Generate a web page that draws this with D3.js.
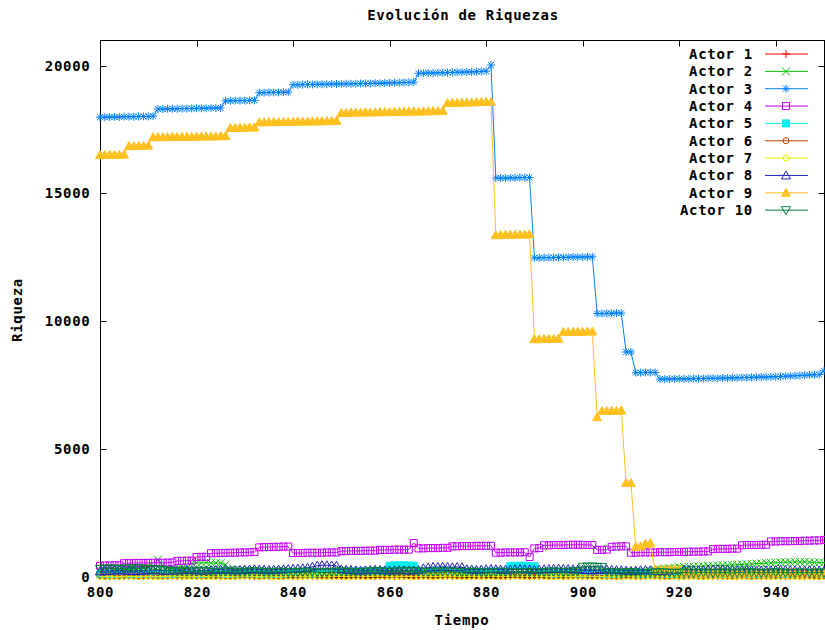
<!DOCTYPE html>
<html><head><meta charset="utf-8">
<script src="https://cdn.jsdelivr.net/npm/d3@7"></script>
<style>
body{margin:0;background:#fff}
svg text{font-family:"DejaVu Sans Mono",monospace;font-weight:bold;font-size:14px;letter-spacing:0.7px;fill:#000}
</style>
</head><body>
<svg id="chart" width="825" height="630"></svg>
<script>
const title = "Evolución de Riquezas";
const xLabel = "Tiempo";
const yLabel = "Riqueza";
const tStart = 800;
const xTicks = [800, 820, 840, 860, 880, 900, 920, 940];
const yTicks = [0, 5000, 10000, 15000, 20000];
const actorNames = ["Actor 1","Actor 2","Actor 3","Actor 4","Actor 5","Actor 6","Actor 7","Actor 8","Actor 9","Actor 10"];
const actorColors = ["#ff0000","#00c000","#0080ff","#c000ff","#00eeee","#c04000","#eeee00","#2020c0","#ffc020","#008040"];
const actorMarkers = ["plus","cross","star","box","fbox","circle","circle","tri","ftri","itri"];

const actor1 = [40,50,30,60,40,30,50,60,40,30,50,40,60,30,40,50,30,40,60,50,40,30,50,60,40,30,50,40,30,60,50,40,30,50,60,40,30,50,40,60,30,40,50,60,40,30,50,40,30,60,40,50,30,40,60,50,40,30,50,40,60,30,40,50,60,40,30,50,40,30,60,50,40,30,50,60,40,30,50,40,30,60,40,50,30,40,60,50,40,30,50,40,60,30,40,50,30,40,60,50,40,30,50,60,40,30,50,40,30,60,50,40,30,50,60,40,30,50,40,60,30,40,50,60,40,30,50,40,30,60,40,50,30,40,60,50,40,30,50,40,60,30,40,50,60,40,30,50,40,30,60];
const actor2 = [250,260,240,270,280,300,290,310,330,350,380,420,
680,450,330,320,310,330,340,
540,550,550,560,550,550,540,480,
300,280,270,260,250,250,240,240,230,230,240,250,240,230,
220,220,210,210,200,200,200,210,220,230,230,220,210,200,200,190,190,200,210,220,220,230,240,230,220,210,200,200,210,220,
230,240,250,250,240,230,220,220,210,210,200,200,200,190,190,190,200,200,210,210,200,200,190,180,180,190,200,200,190,190,
180,180,170,170,160,160,170,180,180,190,200,210,230,250,280,
300,320,340,360,380,390,400,400,410,420,430,440,450,460,460,470,480,490,500,510,520,530,540,550,560,570,580,580,590,590,590,580,570,570,560];
const actor3 = [17980,17980,17990,17990,17990,18000,18000,18000,18010,18010,18010,18020,
18300,18300,18310,18310,18310,18320,18320,18320,18330,18330,18330,18340,18340,18340,
18620,18620,18630,18630,18630,18640,18640,
18940,18940,18950,18950,18950,18960,18960,
19250,19250,19260,19260,19260,19270,19270,19270,19280,19280,19280,19290,19290,19290,19300,19300,19300,19310,19310,19320,19320,19330,19330,19340,19340,19350,
19700,19700,19710,19710,19720,19720,19730,19730,19740,19740,19750,19750,19760,19770,19780,
20020,
15600,15600,15600,15610,15610,15620,15620,15620,
12480,12480,12490,12490,12490,12500,12500,12500,12510,12510,12510,12520,12520,
10300,10300,10310,10310,10320,10320,
8800,8800,
7990,7990,8000,8000,8000,
7740,7740,7740,7750,7750,7750,7750,7760,7760,7760,7770,7770,7770,7780,7780,7790,7790,7800,7800,7810,7810,7820,7820,7830,7830,7840,7850,7860,7870,7880,7890,7900,7910,7920,8060];
const actor4 = [440,450,450,460,460,
540,540,550,550,550,550,560,560,560,560,570,
630,630,640,640,
780,790,790,
930,930,940,940,950,950,960,960,970,980,
1160,1170,1170,1180,1180,1190,1190,
940,940,940,950,950,950,950,960,960,960,
1010,1010,1020,1020,1020,1030,1030,1030,
1060,1060,1060,1070,1070,1070,1070,
1330,
1120,1120,1130,1130,1130,1140,1140,
1200,1200,1210,1210,1210,1220,1220,1220,1220,
950,950,960,960,960,960,970,780,
1120,1130,
1240,1240,1250,1250,1250,1260,1260,1260,1260,1250,1250,
1060,1060,1070,
1180,1190,1200,1200,
950,950,960,960,960,960,970,970,970,980,980,980,990,990,990,1000,1000,
1090,1100,1100,1100,1110,1110,
1240,1250,1250,1250,1260,1260,
1390,1390,1400,1400,1400,1410,1410,1420,1420,1430,1430,1450];
const actor5 = [100,110,120,110,100,90,100,110,120,130,
120,110,100,100,110,120,130,120,110,100,
100,110,120,130,140,130,120,110,100,100,
110,120,130,120,110,100,110,120,130,140,
150,140,130,120,130,140,150,160,170,180,
190,200,200,210,210,200,200,210,220,230,
440,450,460,460,450,440,200,190,180,170,
160,170,180,190,200,190,180,170,180,190,
200,210,200,190,200,420,430,440,440,430,
420,160,150,140,130,140,150,140,130,120,
130,140,150,140,130,120,110,120,130,140,
130,120,110,100,110,120,130,120,110,100,
100,110,120,110,100,110,120,130,120,110,
100,110,120,130,120,110,100,110,120,130,
140,130,120,110,120,130,140,150,140,130,
120];
const actor6 = [60,50,40,50,60,70,60,50,40,50,
60,70,60,50,40,50,60,70,80,70,
60,50,60,70,60,50,40,50,60,70,
80,70,60,50,60,70,60,50,40,50,
60,70,80,70,60,50,60,70,60,50,
40,50,60,70,60,50,40,50,60,70,
80,90,80,70,60,50,60,70,60,50,
60,70,80,70,60,50,40,50,60,70,
60,50,40,50,60,70,80,70,60,50,
60,70,60,50,40,50,60,70,80,70,
60,50,60,70,60,50,40,50,60,70,
80,70,60,50,60,70,60,50,40,50,
60,70,80,70,60,50,60,70,60,50,
40,50,60,70,60,50,40,50,60,70,
60,50,40,50,60,70,80,70,60,50,
60];
const actor7 = [20,10,30,20,10,20,30,20,10,20,
30,20,10,20,30,40,30,20,10,20,
20,30,20,10,20,30,20,10,20,30,
40,30,20,10,20,30,20,10,20,30,
20,10,20,30,40,30,20,10,20,30,
20,10,20,30,20,10,20,30,40,30,
20,10,20,30,20,10,20,30,20,10,
20,30,40,30,20,10,20,30,20,10,
20,30,20,10,20,30,40,30,20,10,
20,30,20,10,20,30,20,10,20,30,
40,30,20,10,20,30,20,10,20,30,
20,10,20,30,40,30,20,10,20,30,
20,10,20,30,20,10,20,30,40,30,
20,10,20,30,20,10,20,30,20,10,
20,30,40,30,20,10,20,30,20,10,
20];
const actor8 = [220,230,240,250,260,250,240,230,240,250,
260,270,260,250,240,250,260,270,280,270,
260,250,260,270,280,290,280,270,260,270,
280,290,300,290,280,270,280,290,300,310,
320,330,340,360,400,440,460,460,450,440,
300,280,270,260,250,260,270,280,270,260,
250,260,270,260,250,260,270,340,370,390,
390,400,390,380,390,380,300,290,280,290,
300,310,300,290,280,290,300,310,300,290,
280,290,300,310,320,330,320,310,300,290,
280,270,260,270,280,290,280,270,260,250,
240,250,260,270,260,250,240,250,260,270,
280,290,280,270,260,270,280,290,300,290,
280,270,260,270,280,270,260,250,260,270,
280,290,280,270,260,250,260,270,260,250,
240];
const actor9 = [16500,16500,16510,16510,16510,16520,
16850,16850,16860,16860,16870,
17200,17200,17200,17210,17210,17210,17210,17220,17220,17220,17220,17230,17230,17230,17240,17240,
17560,17560,17570,17570,17580,17580,
17780,17780,17790,17790,17790,17800,17800,17800,17810,17810,17810,17820,17820,17820,17830,17830,17840,
18150,18150,18160,18160,18160,18170,18170,18170,18180,18180,18180,18190,18190,18190,18200,18200,18200,18210,18210,18220,18220,18230,
18540,18540,18550,18550,18560,18560,18570,18570,18580,18580,
13370,13370,13380,13380,13390,13390,13390,13400,
9300,9300,9310,9310,9310,9320,
9580,9580,9590,9590,9590,9600,9600,
6250,
6490,6490,6500,6500,6510,
3680,3680,
1180,1200,
1300,1320,
290,290,300,300,300,310,
160,150,150,140,140,150,150,160,150,140,140,150,150,150,160,160,150,140,150,150,160,160,150,150,140,150,150,160,150,150];
const actor10 = [320,330,340,330,320,330,340,350,340,330,
320,310,300,280,260,240,230,220,210,220,
220,230,220,210,200,210,220,210,200,190,
200,210,220,210,200,190,200,210,200,190,
180,190,200,210,200,190,180,190,200,210,
220,210,200,190,200,210,220,230,220,210,
200,210,220,230,240,230,220,210,200,210,
220,230,220,210,200,190,200,210,200,190,
180,190,200,210,200,190,180,190,200,190,
180,190,200,210,220,210,200,210,220,230,
400,410,410,400,390,200,190,180,170,180,
190,180,170,160,170,180,190,180,170,160,
170,180,170,160,170,180,170,160,170,180,
170,160,170,180,190,180,170,160,170,180,
190,180,170,160,170,180,170,160,170,180,
170];
const seriesValues = [actor1,actor2,actor3,actor4,actor5,actor6,actor7,actor8,actor9,actor10];

const svg = d3.select("#chart");
const L = 100, R = 824, T = 40, B = 577;
const x = d3.scaleLinear().domain([800, 950]).range([L, R]);
const y = d3.scaleLinear().domain([0, 21000]).range([B, T]);

// marker shapes
function markerPath(type) {
  const s = 4;
  switch (type) {
    case "plus": return `M${-s},0H${s}M0,${-s}V${s}`;
    case "cross": return `M${-s},${-s}L${s},${s}M${-s},${s}L${s},${-s}`;
    case "star": return `M${-s},0H${s}M0,${-s}V${s}M${-s+1},${-s+1}L${s-1},${s-1}M${-s+1},${s-1}L${s-1},${-s+1}`;
    case "box": case "fbox": return `M${-3.5},${-3.5}h7v7h-7Z`;
    case "circle": return d3.arc()({innerRadius:0,outerRadius:3,startAngle:0,endAngle:2*Math.PI});
    case "tri": case "ftri": return `M0,${-4.5}L4.5,3.5L-4.5,3.5Z`;
    case "itri": return `M0,4.5L4.5,-3.5L-4.5,-3.5Z`;
  }
}
function isFilled(type){ return type === "fbox" || type === "ftri"; }

// border
svg.append("rect").attr("x", L + 0.5).attr("y", T + 0.5).attr("width", R - L).attr("height", B - T)
  .attr("fill", "none").attr("stroke", "#000").attr("stroke-width", 1);

// axes
const gx = svg.append("g").attr("transform", `translate(0,${B + 0.5})`)
  .call(d3.axisBottom(x).tickValues(xTicks).tickSize(-6).tickPadding(10).tickFormat(d3.format("d")));
const gxt = svg.append("g").attr("transform", `translate(0,${T + 0.5})`)
  .call(d3.axisTop(x).tickValues(xTicks).tickSize(-6).tickFormat(""));
const gy = svg.append("g").attr("transform", `translate(${L + 0.5},0)`)
  .call(d3.axisLeft(y).tickValues(yTicks).tickSize(-6).tickPadding(10).tickFormat(d3.format("d")));
const gyr = svg.append("g").attr("transform", `translate(${R + 0.5},0)`)
  .call(d3.axisRight(y).tickValues(yTicks).tickSize(-6).tickFormat(""));
[gx, gxt, gy, gyr].forEach(g => {
  g.select(".domain").remove();
  g.selectAll(".tick line").attr("stroke", "#000");
  g.selectAll("text").attr("font-family", null).attr("font-size", null).attr("fill", "#000");
});
gx.selectAll(".tick").attr("transform", d => `translate(${Math.round(x(d)) + 0.5},0)`);
gxt.selectAll(".tick").attr("transform", d => `translate(${Math.round(x(d)) + 0.5},0)`);
gy.selectAll(".tick").attr("transform", d => `translate(0,${Math.round(y(d)) + 0.5})`);
gyr.selectAll(".tick").attr("transform", d => `translate(0,${Math.round(y(d)) + 0.5})`);

// series
const line = d3.line().x((d, i) => x(tStart + i)).y(d => y(d));
seriesValues.forEach((vals, k) => {
  const g = svg.append("g");
  g.append("path").attr("d", line(vals)).attr("fill", "none")
    .attr("stroke", actorColors[k]).attr("stroke-width", 1);
  const mt = actorMarkers[k];
  g.selectAll("path.m").data(vals).join("path").attr("class", "m")
    .attr("transform", (d, i) => `translate(${x(tStart + i)},${y(d)})`)
    .attr("d", markerPath(mt))
    .attr("fill", isFilled(mt) ? actorColors[k] : "none")
    .attr("stroke", actorColors[k]).attr("stroke-width", 1);
});

// legend
const legend = svg.append("g");
actorNames.forEach((name, k) => {
  const ly = 54 + k * 17.35;
  legend.append("text").attr("x", 753).attr("y", ly + 5).attr("text-anchor", "end").text(name);
  legend.append("line").attr("x1", 765).attr("x2", 808).attr("y1", ly).attr("y2", ly)
    .attr("stroke", actorColors[k]).attr("stroke-width", 1);
  const mt = actorMarkers[k];
  legend.append("path").attr("transform", `translate(786,${ly})`).attr("d", markerPath(mt))
    .attr("fill", isFilled(mt) ? actorColors[k] : "none").attr("stroke", actorColors[k]);
});

// titles
svg.append("text").attr("x", 463).attr("y", 20).attr("text-anchor", "middle").text(title);
svg.append("text").attr("x", 462).attr("y", 625).attr("text-anchor", "middle").text(xLabel);
svg.append("text").attr("transform", "translate(22,310) rotate(-90)").attr("text-anchor", "middle").text(yLabel);
</script>
</body></html>
